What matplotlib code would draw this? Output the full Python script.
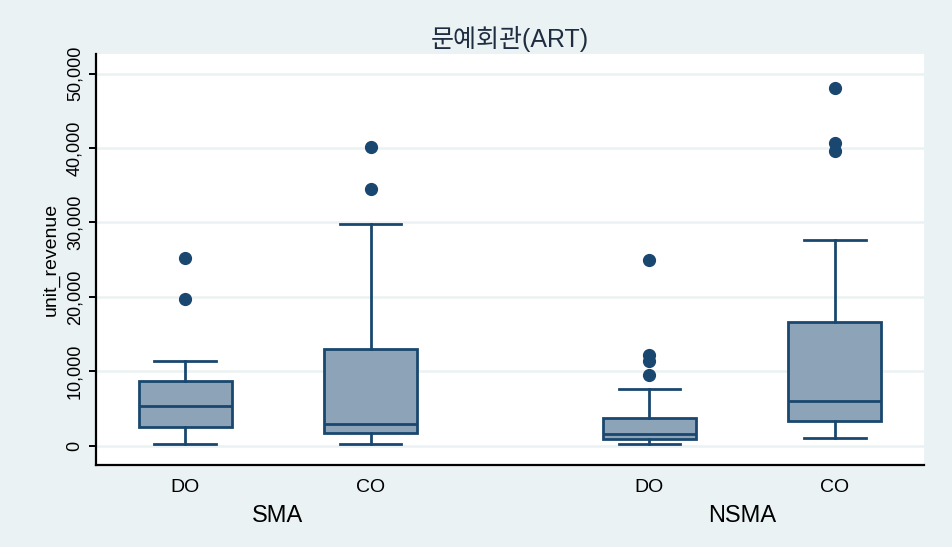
import matplotlib
matplotlib.use("Agg")
import matplotlib.pyplot as plt
import matplotlib.transforms as mtransforms
from matplotlib.ticker import FuncFormatter

plt.rcParams['font.family'] = ['Liberation Sans', 'Noto Sans CJK KR', 'DejaVu Sans']

# data (unit_revenue)
groups = ["SMA", "NSMA"]
types = ["DO", "CO"]
q1 = [2510, 1670, 900, 3280]
med = [5300, 2960, 1570, 6050]
q3 = [8650, 13000, 3680, 16630]
whis_lo = [190, 190, 190, 1080]
whis_hi = [11420, 29800, 7660, 27650]
outliers = [
    [19680, 25190],
    [34500, 40190],
    [9500, 11400, 12200, 24960],
    [39650, 40720, 48040],
]

positions = [1, 2, 3.5, 4.5]

bg = "#EAF2F3"
navy = "#1A476F"
fill = "#8DA3B7"

fig = plt.figure(figsize=(9.53, 5.47), dpi=100)
fig.patch.set_facecolor(bg)
ax = fig.add_axes([96 / 953, 82 / 547, 828 / 953, 411 / 547])
ax.set_facecolor("white")

stats = []
for i in range(4):
    stats.append(dict(med=med[i], q1=q1[i], q3=q3[i], whislo=whis_lo[i],
                      whishi=whis_hi[i], fliers=outliers[i]))

lw = 2.0
ax.bxp(stats, positions=positions, widths=0.5, capwidths=0.33,
       patch_artist=True, manage_ticks=False,
       boxprops=dict(facecolor=fill, edgecolor=navy, linewidth=lw),
       medianprops=dict(color=navy, linewidth=lw),
       whiskerprops=dict(color=navy, linewidth=lw),
       capprops=dict(color=navy, linewidth=lw),
       flierprops=dict(marker="o", markerfacecolor=navy, markeredgecolor=navy,
                       markersize=8.5))

ax.set_xlim(0.52, 4.98)
ax.set_ylim(-2600, 52650)
ax.set_yticks(range(0, 50001, 10000))
ax.yaxis.set_major_formatter(FuncFormatter(lambda v, p: f"{int(v):,}"))
ax.grid(axis="y", color=bg, linewidth=1.8)
ax.set_axisbelow(True)

ax.set_xticks(positions)
ax.set_xticklabels(types * 2, fontsize=14)
ax.tick_params(axis="x", length=0, pad=10)
ax.tick_params(axis="y", length=5, width=1.4, labelsize=13, pad=4,
               labelrotation=90)
for lab in ax.get_yticklabels():
    lab.set_va("center")

for s in ["top", "right"]:
    ax.spines[s].set_visible(False)
for s in ["left", "bottom"]:
    ax.spines[s].set_linewidth(1.6)
    ax.spines[s].set_color("black")

trans = mtransforms.blended_transform_factory(ax.transData, ax.transAxes)
ax.text((positions[0] + positions[1]) / 2, -0.125, groups[0], transform=trans,
        ha="center", va="center", fontsize=17)
ax.text((positions[2] + positions[3]) / 2, -0.125, groups[1], transform=trans,
        ha="center", va="center", fontsize=17)

ax.set_ylabel("unit_revenue", fontsize=14, labelpad=5)
ax.set_title("문예회관(ART)", fontsize=18, color="#1E2D40", pad=5)

fig.savefig("out.png", dpi=100, facecolor=fig.get_facecolor())
